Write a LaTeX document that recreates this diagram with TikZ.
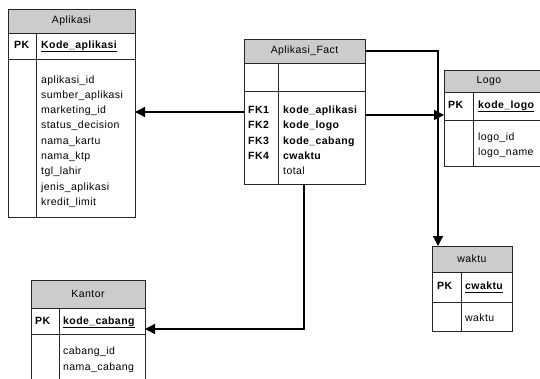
\documentclass[tikz,border=0pt]{standalone}
\usepackage{fontspec}
\setmainfont{Liberation Sans}[LetterSpace=4]
\usetikzlibrary{arrows.meta}
\begin{document}
\begin{tikzpicture}[x=1pt,y=-1pt,
  box/.style={draw=black!85, line width=0.8pt, anchor=north west, inner sep=0pt, outer sep=0pt},
  hdr/.style={box, fill=black!20, font=\fontsize{10.5}{12}\selectfont},
  txt/.style={anchor=base west, inner sep=0pt, font=\fontsize{10.5}{12}\selectfont},
  bld/.style={txt, font=\fontsize{10.5}{12}\selectfont\bfseries},
  divl/.style={draw=black!85, line width=0.8pt},
  ul/.style={line width=0.8pt},
  conn/.style={line width=1.3pt, -{Triangle[length=10pt,width=10pt]}}]
\useasboundingbox (0,0) rectangle (540,378);
\clip (0,0) rectangle (540,378);

% ---------- Aplikasi ----------
\node[hdr, minimum width=127pt, minimum height=24pt] (aplH) at (8,9) {Aplikasi};
\node[box, minimum width=127pt, minimum height=26pt] (aplP) at (8,33) {};
\node[box, minimum width=127pt, minimum height=158pt] (aplB) at (8,59) {};
\draw[divl] (36,33) -- (36,217);
\node[bld] (aplPK) at (14,48) {PK};
\node[bld] (aplK) at (41,48) {Kode\_aplikasi};
\draw[ul] ([yshift=-3pt]aplK.base west) -- ([yshift=-3pt]aplK.base east);
\foreach \t [count=\i] in {aplikasi\_id,sumber\_aplikasi,marketing\_id,status\_decision,nama\_kartu,nama\_ktp,tgl\_lahir,jenis\_aplikasi,kredit\_limit}
  \node[txt] (aplF\i) at (41,{83+15.3*(\i-1)}) {\t};

% ---------- Aplikasi_Fact ----------
\node[hdr, minimum width=121pt, minimum height=24pt] (factH) at (244,39) {Aplikasi\_Fact};
\node[box, minimum width=121pt, minimum height=28pt] (factP) at (244,63) {};
\node[box, minimum width=121pt, minimum height=93pt] (factB) at (244,91) {};
\draw[divl] (278,63) -- (278,184);
\foreach \k/\t [count=\i] in {FK1/kode\_aplikasi,FK2/kode\_logo,FK3/kode\_cabang,FK4/cwaktu}{
  \node[bld] (factK\i) at (248,{113.3+15.4*(\i-1)}) {\k};
  \node[bld] (factF\i) at (283,{113.3+15.4*(\i-1)}) {\t};
}
\node[txt] (factT) at (283,{113.3+15.4*4}) {total};

% ---------- Logo ----------
\node[hdr, minimum width=110pt, minimum height=22pt] (logoH) at (444,70) {\hspace*{-20pt}Logo};
\node[box, minimum width=110pt, minimum height=28pt] (logoP) at (444,92) {};
\node[box, minimum width=110pt, minimum height=46pt] (logoB) at (444,120) {};
\draw[divl] (473,92) -- (473,166);
\node[bld] (logoPK) at (448,108) {PK};
\node[bld] (logoK) at (478,108) {kode\_logo};
\draw[ul] ([yshift=-3pt]logoK.base west) -- ([yshift=-3pt]logoK.base east);
\node[txt] (logoF1) at (478,140) {logo\_id};
\node[txt] (logoF2) at (478,155) {logo\_name};

% ---------- waktu ----------
\node[hdr, minimum width=80pt, minimum height=26pt] (wakH) at (432,246) {waktu};
\node[box, minimum width=80pt, minimum height=30pt] (wakP) at (432,272) {};
\node[box, minimum width=80pt, minimum height=29pt] (wakB) at (432,302) {};
\draw[divl] (461,272) -- (461,331);
\node[bld] (wakPK) at (437,289) {PK};
\node[bld] (wakK) at (465,289) {cwaktu};
\draw[ul] ([yshift=-3pt]wakK.base west) -- ([yshift=-3pt]wakK.base east);
\node[txt] (wakF1) at (465,321) {waktu};

% ---------- Kantor ----------
\node[hdr, minimum width=114pt, minimum height=28pt] (kanH) at (31,280) {Kantor};
\node[box, minimum width=114pt, minimum height=26pt] (kanP) at (31,308) {};
\node[box, minimum width=114pt, minimum height=60pt] (kanB) at (31,334) {};
\draw[divl] (59,308) -- (59,394);
\node[bld] (kanPK) at (35,324) {PK};
\node[bld] (kanK) at (63,324) {kode\_cabang};
\draw[ul] ([yshift=-3pt]kanK.base west) -- ([yshift=-3pt]kanK.base east);
\node[txt] (kanF1) at (63,354) {cabang\_id};
\node[txt] (kanF2) at (63,370) {nama\_cabang};

% ---------- connectors ----------
\coordinate (c1) at ([yshift=-21pt]factB.north west);
\draw[conn] (c1) -- (c1 -| aplB.east);
\coordinate (c2) at ([yshift=-24pt]factB.north east);
\draw[conn] (c2) -- (c2 -| logoP.west);
\coordinate (c3) at ([yshift=-12pt]factH.north east);
\draw[conn] (c3) -| ([xshift=6pt]wakH.north west);
\coordinate (c4) at ([xshift=60pt]factB.south west);
\draw[conn] (c4) |- ([yshift=-21pt]kanP.north east);
\end{tikzpicture}
\end{document}
